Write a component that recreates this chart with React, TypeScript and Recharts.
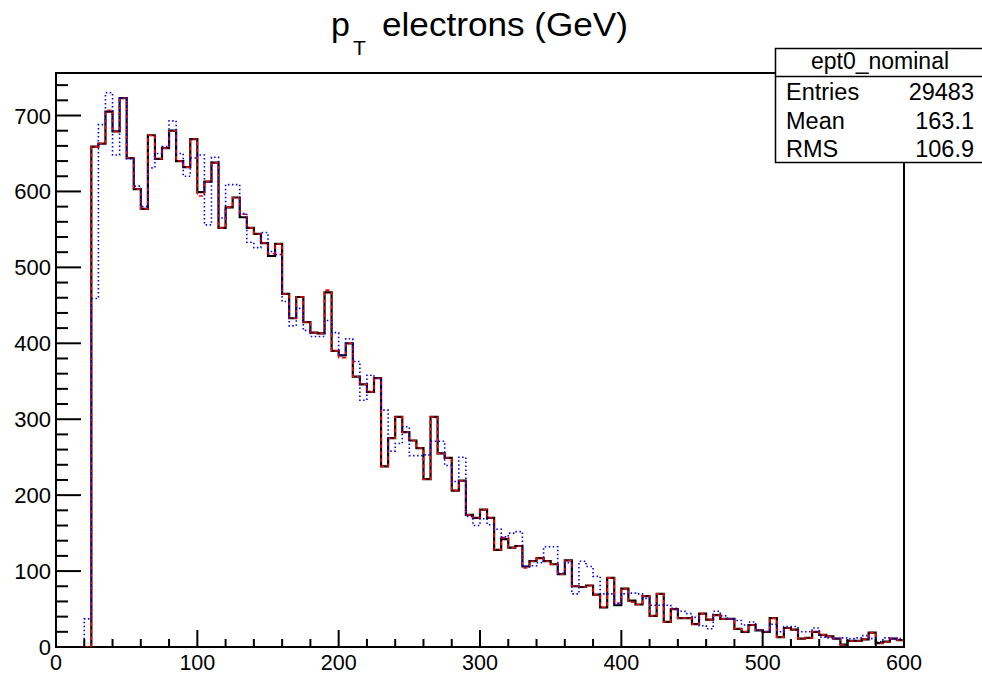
import React from 'react';
import { ComposedChart, Line, XAxis, YAxis, ReferenceArea } from 'recharts';

const binEdges = [
  0, 5, 10, 15, 20, 25, 30, 35, 40, 45, 50, 55, 60, 65, 70, 75, 80, 85, 90, 95,
  100, 105, 110, 115, 120, 125, 130, 135, 140, 145, 150, 155, 160, 165, 170, 175, 180, 185, 190, 195,
  200, 205, 210, 215, 220, 225, 230, 235, 240, 245, 250, 255, 260, 265, 270, 275, 280, 285, 290, 295,
  300, 305, 310, 315, 320, 325, 330, 335, 340, 345, 350, 355, 360, 365, 370, 375, 380, 385, 390, 395,
  400, 405, 410, 415, 420, 425, 430, 435, 440, 445, 450, 455, 460, 465, 470, 475, 480, 485, 490, 495,
  500, 505, 510, 515, 520, 525, 530, 535, 540, 545, 550, 555, 560, 565, 570, 575, 580, 585, 590, 595,
];
const xMax = 600;

const nominal = [
  0, 0, 0, 0, 0, 659, 663, 705, 679, 723, 644, 603, 577, 674, 643, 657, 680, 640, 632, 669,
  599, 613, 638, 552, 579, 592, 566, 552, 544, 532, 515, 531, 465, 433, 461, 428, 414, 413, 467, 390,
  384, 400, 356, 346, 336, 354, 238, 275, 303, 283, 272, 262, 221, 303, 255, 249, 206, 219, 174, 170,
  181, 170, 128, 142, 131, 133, 106, 113, 117, 113, 109, 96, 114, 80, 79, 81, 69, 52, 91, 55,
  77, 61, 56, 67, 41, 70, 33, 50, 38, 38, 30, 44, 36, 42, 37, 37, 24, 20, 29, 22,
  20, 38, 13, 25, 23, 11, 12, 20, 16, 14, 11, 3, 8, 8, 10, 19, 5, 7, 11, 9,
];

const variationRed = [
  0, 0, 0, 0, 0, 659, 663, 707, 679, 723, 644, 603, 577, 674, 643, 657, 680, 640, 632, 669,
  594, 613, 638, 552, 579, 592, 570, 552, 544, 532, 518, 531, 465, 433, 461, 428, 414, 413, 470, 390,
  381, 400, 356, 346, 336, 354, 238, 275, 303, 283, 272, 262, 221, 303, 255, 249, 206, 219, 174, 170,
  181, 170, 128, 144, 131, 133, 104, 113, 117, 113, 109, 96, 114, 80, 79, 81, 69, 52, 91, 58,
  77, 59, 56, 67, 41, 70, 33, 50, 38, 38, 30, 44, 36, 42, 37, 37, 24, 20, 29, 22,
  20, 38, 13, 25, 23, 11, 12, 20, 16, 14, 11, 3, 8, 8, 10, 19, 5, 7, 11, 9,
];

const variationBlue = [
  0, 0, 0, 0, 37, 459, 688, 730, 648, 723, 643, 607, 580, 631, 650, 659, 693, 650, 620, 644,
  648, 556, 645, 565, 609, 609, 571, 533, 526, 546, 521, 517, 455, 423, 446, 417, 409, 409, 430, 414,
  385, 406, 376, 325, 358, 354, 312, 258, 268, 290, 252, 252, 253, 271, 271, 239, 218, 250, 172, 160,
  169, 161, 155, 145, 150, 152, 106, 107, 111, 132, 132, 97, 111, 70, 113, 106, 93, 70, 70, 57,
  70, 71, 70, 64, 55, 55, 55, 51, 47, 44, 39, 28, 24, 47, 41, 37, 35, 29, 33, 22,
  20, 30, 20, 27, 27, 20, 20, 25, 13, 12, 11, 12, 11, 12, 15, 11, 7, 12, 11, 11,
];

const xTicks = [
  0, 20, 40, 60, 80, 100, 120, 140, 160, 180, 200, 220, 240, 260, 280, 300,
  320, 340, 360, 380, 400, 420, 440, 460, 480, 500, 520, 540, 560, 580, 600,
];
const yTicks = [
  0, 20, 40, 60, 80, 100, 120, 140, 160, 180, 200, 220, 240, 260, 280, 300, 320, 340, 360,
  380, 400, 420, 440, 460, 480, 500, 520, 540, 560, 580, 600, 620, 640, 660, 680, 700, 720, 740,
];
const yMax = 756;

const statsTitle = 'ept0_nominal';
const statsLabels = ['Entries', 'Mean', 'RMS'];
const statsValues = ['29483', '163.1', '106.9'];

const FONT = '"Liberation Sans", Arial, Helvetica, sans-serif';

const rows = [
  ...binEdges.map((x, i) => ({ x, black: nominal[i], red: variationRed[i], blue: variationBlue[i] })),
  {
    x: xMax,
    black: nominal[nominal.length - 1],
    red: variationRed[variationRed.length - 1],
    blue: variationBlue[variationBlue.length - 1],
  },
];

const XTick = (props: any) => {
  const { x, y, payload } = props;
  const v = payload.value;
  const major = v % 100 === 0;
  return (
    <g>
      <line x1={x} x2={x} y1={y} y2={y - (major ? 17 : 8)} stroke="#000" strokeWidth={2} />
      {major && (
        <text x={x} y={y + 23} textAnchor="middle" fontSize={21.5} fontFamily={FONT} fill="#000">
          {v}
        </text>
      )}
    </g>
  );
};

const YTick = (props: any) => {
  const { x, y, payload } = props;
  const v = payload.value;
  const major = v % 100 === 0;
  return (
    <g>
      <line x1={x} x2={x + (major ? 25 : 12)} y1={y} y2={y} stroke="#000" strokeWidth={2} />
      {major && (
        <text x={x - 5} y={y + 8} textAnchor="end" fontSize={22} fontFamily={FONT} fill="#000">
          {v}
        </text>
      )}
    </g>
  );
};

export default function App() {
  return (
    <div style={{ position: 'absolute', left: 0, top: 0, width: 982, height: 675, background: '#fff' }}>
      <ComposedChart
        width={982}
        height={675}
        data={rows}
        margin={{ top: 73, right: 78, bottom: 0, left: 0 }}
      >
        <XAxis
          dataKey="x"
          type="number"
          domain={[0, xMax]}
          ticks={xTicks}
          interval={0}
          height={28}
          tickSize={0}
          tickMargin={0}
          tickLine={false}
          axisLine={false}
          tick={<XTick />}
          allowDataOverflow
        />
        <YAxis
          type="number"
          domain={[0, yMax]}
          ticks={yTicks}
          interval={0}
          width={56}
          tickSize={0}
          tickMargin={0}
          tickLine={false}
          axisLine={false}
          tick={<YTick />}
          allowDataOverflow
        />
        <ReferenceArea
          x1={0}
          x2={xMax}
          y1={0}
          y2={yMax}
          fill="none"
          fillOpacity={0}
          stroke="#000"
          strokeWidth={2}
          ifOverflow="visible"
        />
        <Line
          dataKey="black"
          type="stepAfter"
          stroke="#000"
          strokeWidth={2.2}
          dot={false}
          isAnimationActive={false}
        />
        <Line
          dataKey="red"
          type="stepAfter"
          stroke="#ff0000"
          strokeWidth={1.6}
          strokeDasharray="4 3"
          dot={false}
          isAnimationActive={false}
        />
        <Line
          dataKey="blue"
          type="stepAfter"
          stroke="#0000ff"
          strokeWidth={1.6}
          strokeDasharray="1.5 2.5"
          dot={false}
          isAnimationActive={false}
        />
      </ComposedChart>
      <svg
        width={982}
        height={675}
        style={{ position: 'absolute', left: 0, top: 0, pointerEvents: 'none' }}
      >
        <text x={331} y={36} fontSize={34} fontFamily={FONT} fill="#000">
          p
        </text>
        <text x={353} y={55} fontSize={21} fontFamily={FONT} fill="#000">
          T
        </text>
        <text
          x={382}
          y={36}
          fontSize={34}
          fontFamily={FONT}
          fill="#000"
          textLength={246}
          lengthAdjust="spacingAndGlyphs"
        >
          electrons (GeV)
        </text>
        <rect x={775.5} y={48.5} width={220} height={114} fill="#fff" stroke="#000" strokeWidth={1.5} />
        <line x1={775.5} x2={990} y1={76.5} y2={76.5} stroke="#000" strokeWidth={1.5} />
        <text x={880} y={69} textAnchor="middle" fontSize={23} fontFamily={FONT} fill="#000">
          {statsTitle}
        </text>
        {statsLabels.map((label, i) => (
          <g key={label}>
            <text x={786} y={100 + i * 28.7} fontSize={23.5} fontFamily={FONT} fill="#000">
              {label}
            </text>
            <text x={974} y={100 + i * 28.7} textAnchor="end" fontSize={23.5} fontFamily={FONT} fill="#000">
              {statsValues[i]}
            </text>
          </g>
        ))}
      </svg>
    </div>
  );
}
